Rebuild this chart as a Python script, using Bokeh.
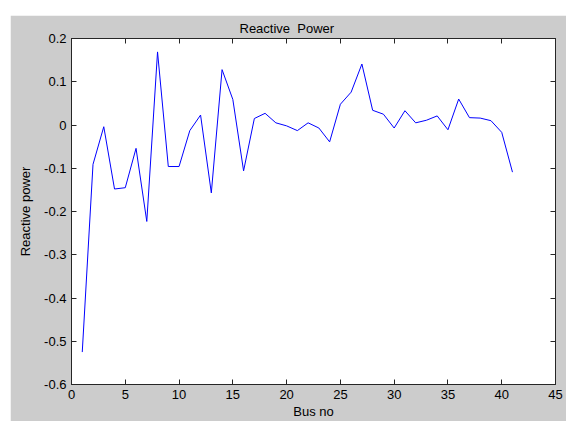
from bokeh.plotting import figure
from bokeh.models import Range1d, FixedTicker, LinearAxis, CustomJSTickFormatter
from bokeh.embed import file_html
from bokeh.resources import INLINE

bus_no = list(range(1, 42))
reactive_power = [
    -0.525, -0.091, -0.004, -0.148, -0.145, -0.054, -0.223, 0.169, -0.096, -0.096,
    -0.013, 0.023, -0.157, 0.128, 0.059, -0.106, 0.015, 0.027, 0.005, -0.002,
    -0.013, 0.005, -0.007, -0.039, 0.048, 0.076, 0.141, 0.034, 0.025, -0.007,
    0.033, 0.005, 0.011, 0.021, -0.011, 0.060, 0.017, 0.016, 0.010, -0.017,
    -0.109,
]
x_ticks = [0, 5, 10, 15, 20, 25, 30, 35, 40, 45]
y_ticks = [-0.6, -0.5, -0.4, -0.3, -0.2, -0.1, 0.0, 0.1, 0.2]

FONT = "Liberation Sans"
FS = "13px"
GRAY = "#cccccc"
AX = "#262626"

p = figure(width=556, height=406, output_backend="svg", toolbar_location=None,
           x_range=Range1d(0, 45), y_range=Range1d(-0.6, 0.2),
           min_border_left=61, min_border_right=11, min_border_top=23, min_border_bottom=35,
           title="Reactive \u00a0Power")
p.styles = {"position": "absolute", "top": "15px", "left": "10px"}
p.border_fill_color = GRAY
p.background_fill_color = "white"
p.outline_line_color = AX
p.outline_line_width = 1
p.grid.visible = False

p.title.text_font = FONT
p.title.text_font_size = FS
p.title.text_font_style = "normal"
p.title.text_color = "black"
p.title.align = "left"
p.title.offset = 168
p.title.standoff = 6

fmt = CustomJSTickFormatter(code="var v = Math.round(tick*10)/10; return (v === 0) ? '0' : v.toString();")

def style(ax, labels=True):
    ax.axis_line_color = AX
    ax.major_tick_line_color = AX
    ax.major_tick_in = 5
    ax.major_tick_out = 0
    ax.minor_tick_line_color = None
    ax.major_label_text_font = FONT
    ax.major_label_text_font_size = FS if labels else "0px"
    ax.major_label_text_color = "black" if labels else None
    ax.axis_label_text_font = FONT
    ax.axis_label_text_font_size = FS
    ax.axis_label_text_font_style = "normal"
    ax.axis_label_text_color = "black"

xa = p.xaxis[0]
xa.ticker = FixedTicker(ticks=x_ticks)
style(xa)
xa.axis_label = "Bus no"
xa.major_label_standoff = 5
xa.axis_label_standoff = 2

ya = p.yaxis[0]
ya.ticker = FixedTicker(ticks=y_ticks)
ya.formatter = fmt
style(ya)
ya.axis_label = "Reactive power"
ya.major_label_standoff = 5
ya.axis_label_standoff = 8

top = LinearAxis(ticker=FixedTicker(ticks=x_ticks))
style(top, labels=False)
top.major_label_standoff = 0
p.add_layout(top, "above")
right = LinearAxis(ticker=FixedTicker(ticks=y_ticks))
style(right, labels=False)
right.major_label_standoff = 0
p.add_layout(right, "right")

p.line(bus_no, reactive_power, line_color="#0000ff", line_width=1)

open("out.html", "w").write(file_html(p, INLINE))
